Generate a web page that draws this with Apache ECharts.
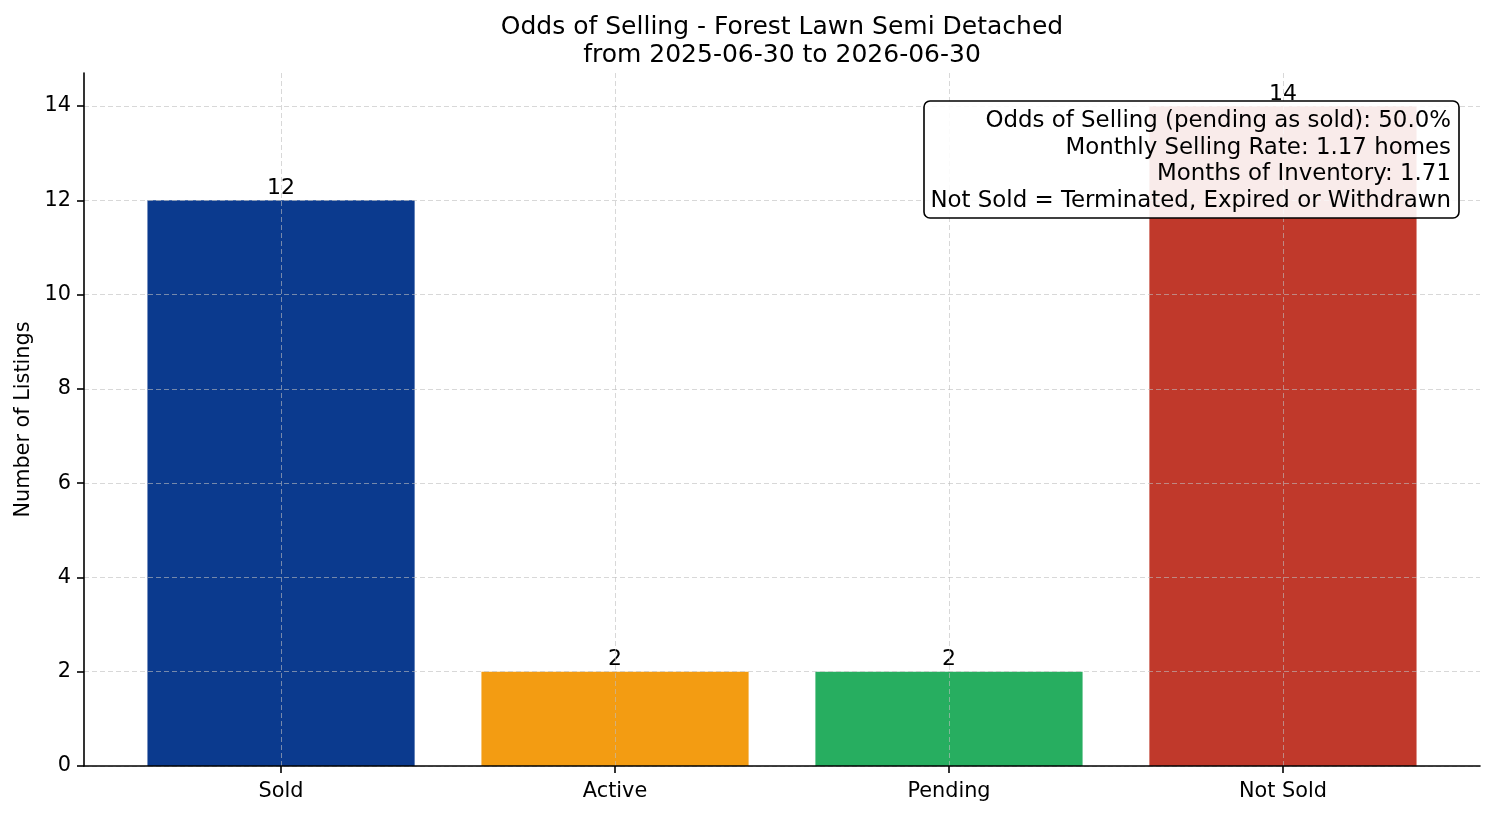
<!DOCTYPE html>
<html>
<head>
<meta charset="utf-8">
<script src="https://cdn.jsdelivr.net/npm/echarts@6/dist/echarts.min.js"></script>
<style>
  html, body { margin: 0; padding: 0; background: #fff; }
  #chart { width: 1494px; height: 816px; }
</style>
</head>
<body>
<div id="chart"></div>
<script>
// data
var categories = ['Sold', 'Active', 'Pending', 'Not Sold'];
var counts = [12, 2, 2, 14];
var barColors = ['#0b3a8e', '#f39c12', '#27ae60', '#c0392b'];
var yTicks = [0, 2, 4, 6, 8, 10, 12, 14];
var yMax = 14.7;
var infoLines = [
  'Odds of Selling (pending as sold): 50.0%',
  'Monthly Selling Rate: 1.17 homes',
  'Months of Inventory: 1.71',
  'Not Sold = Terminated, Expired or Withdrawn'
];

var FONT = 'DejaVu Sans';
var chartDom = document.getElementById('chart');
var myChart = echarts.init(chartDom);

var catIdx = categories.map(function (c, i) { return i; });

// grid lines drawn as markLines so they sit above the bars (like the original)
var gridLines = [];
catIdx.forEach(function (i) { gridLines.push({ xAxis: i }); });
yTicks.forEach(function (v) { gridLines.push({ yAxis: v }); });

var option = {
  animation: false,
  backgroundColor: '#fff',
  title: {
    text: 'Odds of Selling - Forest Lawn Semi Detached\nfrom 2025-06-30 to 2026-06-30',
    left: 777,
    textAlign: 'center',
    top: 8,
    textStyle: {
      fontFamily: FONT,
      fontSize: 25,
      fontWeight: 'normal',
      color: '#000',
      lineHeight: 28
    }
  },
  grid: {
    left: 84,
    right: 14,
    top: 73,
    bottom: 50
  },
  xAxis: {
    type: 'value',
    min: -0.59,
    max: 3.59,
    z: 10,
    axisLine: { show: true, onZero: false, lineStyle: { color: '#000', width: 1.6 } },
    axisTick: {
      show: true,
      customValues: catIdx,
      length: 7,
      lineStyle: { color: '#000', width: 1.6 }
    },
    axisLabel: {
      customValues: catIdx,
      formatter: function (v) { return categories[Math.round(v)]; },
      margin: 15,
      fontFamily: FONT,
      fontSize: 20.8,
      color: '#000'
    },
    splitLine: { show: false }
  },
  yAxis: {
    type: 'value',
    min: 0,
    max: yMax,
    z: 10,
    name: 'Number of Listings',
    nameLocation: 'middle',
    nameGap: 48,
    nameTextStyle: { fontFamily: FONT, fontSize: 20.8, color: '#000' },
    axisLine: { show: true, onZero: false, lineStyle: { color: '#000', width: 1.6 } },
    axisTick: {
      show: true,
      customValues: yTicks,
      length: 7,
      lineStyle: { color: '#000', width: 1.6 }
    },
    axisLabel: {
      customValues: yTicks,
      margin: 13,
      fontFamily: FONT,
      fontSize: 20.8,
      color: '#000'
    },
    splitLine: { show: false }
  },
  series: [
    {
      type: 'bar',
      barWidth: '80%',
      data: catIdx.map(function (i) {
        return { value: [i, counts[i]], itemStyle: { color: barColors[i] } };
      }),
      label: {
        show: true,
        position: 'top',
        distance: 1,
        formatter: function (p) { return p.value[1]; },
        fontFamily: FONT,
        fontSize: 22,
        color: '#000'
      },
      markLine: {
        silent: true,
        symbol: 'none',
        z: 5,
        label: { show: false },
        lineStyle: { color: 'rgba(190,190,190,0.6)', type: [5, 3], width: 1 },
        emphasis: { disabled: true },
        data: gridLines
      }
    }
  ],
  graphic: [
    {
      type: 'rect',
      z: 100,
      shape: { x: 924, y: 101, width: 535, height: 117, r: 6 },
      style: { fill: 'rgba(255,255,255,0.9)', stroke: '#000', lineWidth: 1.6 }
    },
    {
      type: 'text',
      z: 101,
      x: 1451,
      y: 161,
      style: {
        text: infoLines.join('\n'),
        align: 'right',
        verticalAlign: 'middle',
        fontFamily: FONT,
        fontSize: 22.9,
        lineHeight: 26.5,
        fill: '#000'
      }
    }
  ]
};
option && myChart.setOption(option);
</script>
</body>
</html>
